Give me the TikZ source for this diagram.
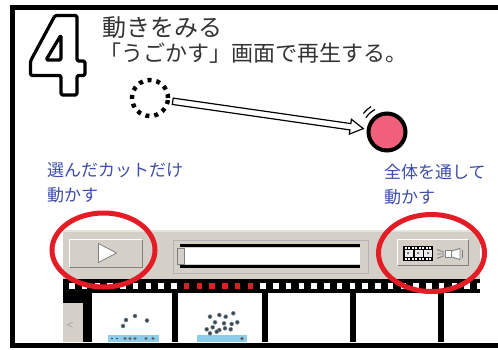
\documentclass[tikz,border=0pt]{standalone}
\usepackage{fontspec}
\newfontfamily\jpfont{Noto Sans CJK JP}
\usetikzlibrary{calc,shapes.geometric}

\definecolor{panelgray}{RGB}{212,208,200}
\definecolor{ringred}{RGB}{228,28,38}
\definecolor{ballpink}{RGB}{240,96,122}
\definecolor{labelblue}{RGB}{62,78,168}
\definecolor{skyband}{RGB}{140,205,235}
\definecolor{dotslate}{RGB}{55,70,82}
\definecolor{holered}{RGB}{222,30,34}
\definecolor{btnshadow}{RGB}{128,128,128}

\tikzset{
  title/.style={inner sep=0pt, anchor=west, text=black!80, font=\jpfont\fontsize{#1}{#1}\selectfont},
  bluelabel/.style={inner sep=0pt, anchor=north west, align=left, text=labelblue,
    font=\jpfont\fontsize{17}{25}\selectfont},
  dashring/.style={circle, draw, line width=4.4pt, minimum size=36pt, inner sep=0pt,
    dash pattern=on 4pt off 4.9pt},
  pinkball/.style={circle, draw, line width=4pt, fill=ballpink, minimum size=37pt, inner sep=0pt},
  hollowarrow/.style={draw, fill=white, line width=1.2pt, line join=miter},
  redring/.style={ellipse, draw=ringred, line width=5pt, inner sep=0pt},
  btnbox/.style={rectangle, fill=panelgray, draw=none, inner sep=0pt},
  filmdot/.style={circle, fill=dotslate, draw=dotslate!60!white, line width=0.5pt, inner sep=0pt, minimum size=4pt},
}

\begin{document}
\begin{tikzpicture}[x=1pt,y=-1pt]
\useasboundingbox (0,0) rectangle (498,349);
\fill[white] (0,0) rectangle (498,349);

% big outlined step number
\draw[line width=3.2pt, fill=white, even odd rule, rounded corners=1.5pt, line join=round]
  (55,15.5) -- (77,15.5) -- (77,61) -- (85,61) -- (85,75.5) -- (77,75.5) -- (77,95)
  -- (61,95) -- (61,75.5) -- (30.5,75.5) -- (30.5,61) -- cycle
  (46,60) -- (61,35) -- (61,60) -- cycle;

% heading
\node[title=24] (head) at (102,28) {動きをみる};
\node[title=22] (sub) at (99,53) {「うごかす」画面で再生する。};

% moving ball: start and end positions
\node[dashring] (from) at (150,98) {};
\node[pinkball] (to) at (387,132) {};

% hollow arrow between the two positions
\coordinate (as) at ($(from.center)!23pt!(to.center)$);
\coordinate (at) at ($(to.center)!24pt!(from.center)$);
\coordinate (ah) at ($(to.center)!37pt!(from.center)$);
\path[hollowarrow]
  ($(as)!3.2pt!90:(at)$) -- ($(ah)!3.2pt!-90:(as)$) -- ($(ah)!7.5pt!-90:(as)$) -- (at)
  -- ($(ah)!7.5pt!90:(as)$) -- ($(ah)!3.2pt!90:(as)$) -- ($(as)!3.2pt!-90:(at)$) -- cycle;

% motion marks beside the ball
\draw[line width=1.2pt] ([shift={(118:25.5pt)}]to.center) arc (118:146:25.5pt);
\draw[line width=1.2pt] ([shift={(122:30pt)}]to.center) arc (122:142:30pt);

% captions
\node[bluelabel] (capL) at (47,162) {選んだカットだけ\\動かす};
\node[bluelabel] (capR) at (384,164) {全体を通して\\動かす};

% toolbar panel
\fill[panelgray] (63,230) rectangle (480,280);
\fill[panelgray!60!white] (63,230) rectangle (480,232);

% play-selection button
\node[btnbox, minimum width=72pt, minimum height=27pt] (play) at (106,253.5) {};
\draw[white, line width=1.2pt] (play.south west) |- (play.north east);
\draw[btnshadow, line width=1.2pt] (play.south west) -| (play.north east);
\draw[gray, fill=white, line width=0.8pt, line join=round]
  (98.5,243.5) -- (116.5,253) -- (98.5,262.5) -- cycle;

% position slider
\draw[btnshadow!60!white, line width=0.8pt] (173,240) rectangle (368,273);
\fill[white] (180,248) rectangle (360,264);
\draw[line width=2.2pt] (180,245.5) -- (360,245.5);
\draw[line width=2.2pt] (180,266.5) -- (360,266.5);
\filldraw[fill=panelgray, draw=btnshadow, line width=0.6pt] (177,248) rectangle (184.5,264);

% play-all button with film and projector icons
\node[btnbox, minimum width=70pt, minimum height=25pt] (playall) at (433,252.5) {};
\draw[white, line width=1.2pt] (playall.south west) |- (playall.north east);
\draw[btnshadow, line width=1.2pt] (playall.south west) -| (playall.north east);
\fill[black] (403,246) rectangle (433,261);
\foreach \hx in {404.5,408,411.5,415,418.5,422,425.5,429} {
  \fill[white] (\hx,247.2) rectangle ++(2,1.6);
  \fill[white] (\hx,258.2) rectangle ++(2,1.6);
}
\fill[white!85!gray] (405,250.2) rectangle (413,256.8);
\fill[white!85!gray] (414.5,250.2) rectangle (422.5,256.8);
\fill[white!85!gray] (424,250.2) rectangle (431.5,256.8);
\fill[gray] (407,252) rectangle (409,254) (417,252) rectangle (419,254) (427,252) rectangle (429,254);
\draw[gray, line width=0.9pt] (437,249.5) -- (444,252.3) (437,254) -- (444,254) (437,258.5) -- (444,255.7);
\draw[gray, line width=0.9pt, fill=white, line join=round]
  (445.5,250.5) rectangle (451.5,257.5);
\draw[gray, line width=0.9pt, fill=white, line join=round]
  (451.5,251) -- (460,248.5) -- (460,259.5) -- (451.5,257) -- cycle;
\draw[gray, line width=0.9pt] (462,250) -- (462,258);

% film strip: sprocket row
\fill[black] (63,279) rectangle (480,293);
\foreach \k in {0,...,8,15,16,...,32}
  \fill[white] ({69+12.75*\k},283) rectangle ++(5.5,6);
\foreach \k in {9,...,14}
  \fill[holered] ({69+12.75*\k},283) rectangle ++(5.5,6);

% film strip: frames
\fill[white] (63,293) rectangle (480,342);
\fill[black] (63,293) rectangle (92,303);
\fill[panelgray] (63,303) rectangle (83,342);
\fill[black] (83,303) rectangle (92,342);
\node[text=gray, font=\fontsize{9}{9}\selectfont, inner sep=0pt] (back) at (70,325) {<};
\foreach \bx in {172,262,350,438}
  \fill[black] (\bx,293) rectangle ++(6,49);

% frame 1 contents
\fill[skyband] (108,335) rectangle (159,342);
\foreach \p in {(126,320),(135,316),(147,320.5),(123,326)}
  \node[filmdot] at \p {};
\foreach \p in {(125,338.5),(130,338.5),(135,338.5),(146,338.5),(153,338.5)}
  \node[filmdot, minimum size=3pt] at \p {};
\draw[dotslate, line width=0.8pt] (111,338.5) -- (113,338.5) (116,338.5) -- (118,338.5);

% frame 2 contents
\fill[skyband] (197,335) rectangle (247,342);
\foreach \p in {(210,316.7),(219.3,315),(225.7,316.7),(233.3,313.3),(215,322.3),
                (224,323.3),(231.7,324),(237.3,322.3),(206.7,329.3),(212.7,327.3),
                (219.3,330),(225,328.3),(230.7,329.3),(210,333.3),(216.7,331.7)}
  \node[filmdot] at \p {};
\node[filmdot, minimum size=3.5pt] at (242,338.5) {};

% highlight rings
\node[redring, minimum width=103pt, minimum height=74pt] (ringL) at (103.5,250) {};
\node[redring, minimum width=106pt, minimum height=77pt] (ringR) at (431.5,253) {};

% page frame (open on the right)
\draw[line width=5pt] (498,7.5) -- (12,7.5) -- (12,345.5) -- (498,345.5);
\end{tikzpicture}
\end{document}
